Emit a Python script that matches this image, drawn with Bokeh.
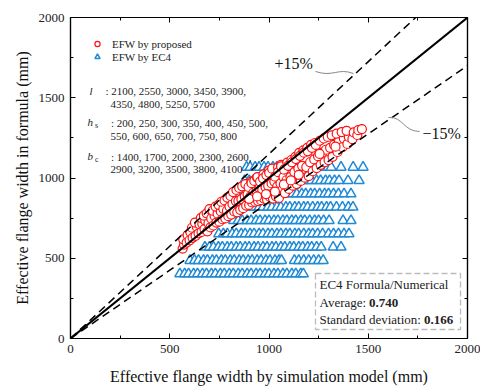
from bokeh.plotting import figure
from bokeh.models import (Range1d, LinearAxis, Legend, LegendItem, Label,
                          BoxAnnotation, FixedTicker)
from bokeh.embed import file_html
from bokeh.resources import INLINE

SERIF = "Liberation Serif"

# ---------------- data ----------------
axis_ticks = [0, 500, 1000, 1500, 2000]
axis_minor = [250, 750, 1250, 1750]
ref_x = [0, 2000]
plus_factor = 1.15
minus_factor = 0.85

# EFW by proposed (red circles)
prop_x = [565, 572, 568, 585, 590, 600, 604, 615, 612, 630, 636, 627, 645, 650,
          660, 664, 657, 675, 679, 672, 690, 695, 686, 705, 709, 700, 720, 726, 716,
          735, 741, 731, 750, 757, 746, 765, 770, 760, 780, 788, 776, 795, 801, 790,
          810, 816, 806, 825, 833, 819, 840, 846, 836, 855, 861, 850, 870, 878, 865,
          885, 892, 881, 900, 906, 897, 911, 915, 921, 912, 930, 937, 926, 940,
          945, 952, 942, 960, 966, 955, 972, 975, 983, 970, 990, 996, 987, 999,
          1005, 1013, 1001, 1020, 1027, 1016, 1035, 1041, 1031, 1046,
          1050, 1058, 1046, 1061, 1065, 1073, 1061, 1080, 1088, 1076, 1092,
          1100, 1108, 1096, 1113, 1120, 1128, 1116, 1133, 1140, 1148, 1136, 1152,
          1160, 1167, 1156, 1173, 1180, 1188, 1176, 1193, 1200, 1207, 1196, 1212,
          1220, 1228, 1216, 1232, 1240, 1247, 1236, 1260, 1268, 1256,
          1280, 1287, 1276, 1300, 1308, 1296, 1320, 1328, 1316, 1345, 1352, 1341,
          1370, 1377, 1366, 1395, 1402, 1391, 1420, 1427, 1445, 1450, 1468,
          985, 1030, 1075, 1110, 1150, 900, 940, 1255, 1335]
prop_y = [560, 585, 618, 597, 645, 612, 662, 627, 690, 640, 697, 722, 655, 712,
          664, 715, 752, 682, 735, 765, 668, 718, 780, 692, 748, 806, 704, 764, 796,
          722, 778, 822, 728, 792, 833, 743, 808, 852, 748, 796, 860, 762, 822, 878,
          772, 838, 888, 792, 856, 912, 786, 858, 926, 802, 868, 938, 812, 884, 948,
          828, 898, 962, 832, 884, 944, 978, 848, 908, 968, 852, 918, 982, 1002,
          856, 938, 1006, 862, 926, 978, 1022, 872, 942, 998, 866, 952, 1018, 1046,
          882, 966, 1032, 872, 978, 1058, 886, 946, 1008, 1066,
          876, 966, 1036, 1082, 922, 1006, 1072, 906, 986, 1052, 1096,
          932, 1006, 1076, 1112, 952, 1036, 1098, 1132, 962, 1058, 1118, 1156,
          982, 1076, 1138, 1172, 1002, 1068, 1158, 1188, 1012, 1098, 1166, 1206,
          1042, 1116, 1188, 1218, 1062, 1136, 1206, 1082, 1158, 1232,
          1098, 1176, 1246, 1112, 1188, 1256, 1132, 1206, 1266, 1162, 1226, 1276,
          1192, 1246, 1286, 1212, 1256, 1294, 1242, 1284, 1268, 1298, 1305,
          900, 915, 960, 985, 1020, 870, 885, 1150, 1195]

# EFW by EC4 (blue triangles), one row per formula level
ec4_levels = [403, 486, 569, 652, 735, 818, 901, 984, 1067]
ec4_rows_x = [
    [551, 575, 595, 620, 640, 665, 685, 710, 730, 755, 775, 800, 820, 845, 865,
     890, 910, 935, 955, 980, 1000, 1025, 1045, 1070, 1090, 1115, 1135, 1160, 1173],
    [602, 625, 645, 670, 690, 715, 735, 760, 780, 805, 825, 850, 870, 895, 915,
     940, 960, 985, 1005, 1030, 1050, 1063, 1128, 1150, 1175, 1200, 1225, 1250, 1273],
    [677, 700, 720, 745, 765, 790, 810, 835, 855, 880, 900, 925, 945, 970, 990,
     1015, 1035, 1060, 1080, 1105, 1125, 1150, 1170, 1195, 1215, 1240, 1263, 1323, 1363],
    [747, 770, 790, 815, 835, 860, 880, 905, 925, 950, 970, 995, 1015, 1040, 1060,
     1085, 1105, 1130, 1150, 1175, 1200, 1220, 1245, 1270, 1300, 1325, 1350, 1378, 1403],
    [822, 845, 865, 890, 910, 935, 955, 980, 1000, 1025, 1045, 1070, 1090, 1115,
     1135, 1160, 1180, 1205, 1230, 1250, 1275, 1303, 1373, 1413],
    [837, 860, 880, 905, 925, 950, 970, 995, 1015, 1040, 1060, 1085, 1105, 1130,
     1150, 1175, 1195, 1220, 1245, 1265, 1290, 1310, 1340, 1370, 1400, 1423],
    [872, 895, 915, 940, 960, 985, 1005, 1030, 1050, 1075, 1095, 1120, 1140, 1165,
     1185, 1210, 1230, 1255, 1280, 1300, 1325, 1350, 1378, 1413],
    [877, 900, 920, 945, 965, 990, 1010, 1035, 1055, 1080, 1100, 1125, 1145, 1170,
     1190, 1215, 1240, 1260, 1285, 1305, 1330, 1353, 1398, 1454],
    [887, 905, 930, 950, 975, 995, 1020, 1040, 1065, 1085, 1110, 1130, 1155, 1175,
     1200, 1225, 1250, 1270, 1298, 1313, 1363, 1424, 1474],
]

ec4_x = []
ec4_y = []
for lvl, xs in zip(ec4_levels, ec4_rows_x):
    ec4_x.extend(xs)
    ec4_y.extend([lvl] * len(xs))

param_l = ["2100, 2550, 3000, 3450, 3900,", "4350, 4800, 5250, 5700"]
param_hs = ["200, 250, 300, 350, 400, 450, 500,", "550, 600, 650, 700, 750, 800"]
param_bc = ["1400, 1700, 2000, 2300, 2600,", "2900, 3200, 3500, 3800, 4100"]

# ---------------- layout helpers (pixel -> data) ----------------
L, R, T, B = 70, 467, 17, 338


def px2x(px):
    return (px - L) / (R - L) * 2000


def px2y(py):
    return (B - py) / (B - T) * 2000


p = figure(width=480, height=388, x_range=Range1d(0, 2000), y_range=Range1d(0, 2000),
           output_backend="svg", toolbar_location=None,
           min_border_left=L, min_border_right=480 - R, min_border_top=T,
           min_border_bottom=388 - B)
p.background_fill_color = "white"
p.border_fill_color = "white"
p.outline_line_color = "black"
p.outline_line_width = 1.2
p.xgrid.visible = False
p.ygrid.visible = False

ticker = FixedTicker(ticks=axis_ticks, minor_ticks=axis_minor)


def style_axis(ax, labels=True):
    ax.ticker = ticker
    ax.axis_line_color = "black"
    ax.axis_line_width = 1.2
    ax.major_tick_in = 5
    ax.major_tick_out = 0
    ax.minor_tick_in = 3
    ax.minor_tick_out = 0
    ax.major_tick_line_color = "black"
    ax.minor_tick_line_color = "black"
    ax.major_label_text_font = SERIF
    if labels:
        ax.major_label_text_font_size = "13px"
        ax.major_label_text_color = "#222222"
        ax.major_label_standoff = 6
    else:
        ax.major_label_text_font_size = "1px"
        ax.major_label_text_color = None
        ax.major_label_standoff = 0
    ax.axis_label_text_font = SERIF
    ax.axis_label_text_font_size = "16px"
    ax.axis_label_text_font_style = "normal"
    ax.axis_label_text_color = "#111111"


style_axis(p.xaxis[0])
style_axis(p.yaxis[0])
p.xaxis[0].axis_label = "Effective flange width by simulation model (mm)"
p.yaxis[0].axis_label = "Effective flange width in formula (mm)"
p.xaxis[0].axis_label_standoff = 12
p.yaxis[0].axis_label_standoff = 5

top_ax = LinearAxis()
right_ax = LinearAxis()
style_axis(top_ax, labels=False)
style_axis(right_ax, labels=False)
p.add_layout(top_ax, "above")
p.add_layout(right_ax, "right")

# ---------------- markers ----------------
r_tri = p.scatter(ec4_x, ec4_y, marker="triangle", size=10, fill_color="white",
                  line_color="#1f8ad6", line_width=1.5)
r_circ = p.scatter(prop_x, prop_y, marker="circle", size=9, fill_color="white",
                   line_color="#ff1010", line_width=1.2)

# ---------------- reference lines ----------------
p.line(ref_x, ref_x, line_color="black", line_width=2)
p.line([0, 2000 / plus_factor], [0, 2000], line_color="black", line_width=1.5,
       line_dash="8 5")
p.line(ref_x, [v * minus_factor for v in ref_x], line_color="black", line_width=1.5,
       line_dash="8 5")

# leader lines
p.bezier(x0=[px2x(315)], y0=[px2y(71)], x1=[px2x(353)], y1=[px2y(73)],
         cx0=[px2x(333)], cy0=[px2y(77)], cx1=[px2x(337)], cy1=[px2y(67)],
         line_color="#888888", line_width=1)
p.bezier(x0=[px2x(388)], y0=[px2y(117)], x1=[px2x(419)], y1=[px2y(131)],
         cx0=[px2x(403)], cy0=[px2y(116)], cx1=[px2x(403)], cy1=[px2y(131)],
         line_color="#888888", line_width=1)

# ---------------- legend ----------------
legend = Legend(items=[LegendItem(label="EFW by proposed", renderers=[r_circ]),
                       LegendItem(label="EFW by EC4", renderers=[r_tri])],
                location="top_left", margin=20, padding=0, spacing=0,
                glyph_width=14, glyph_height=13, label_height=13, label_standoff=8,
                label_text_font=SERIF, label_text_font_size="11px",
                label_text_color="#222222",
                border_line_color=None, background_fill_alpha=0)
p.add_layout(legend)


def add_text(text, px, py, size="11px", style="normal", color="#222222"):
    p.add_layout(Label(x=px2x(px), y=px2y(py), text=text, text_font=SERIF,
                       text_font_size=size, text_font_style=style,
                       text_color=color, text_baseline="middle", text_align="left"))


# parameter annotations
add_text("l", 89, 90, style="italic")
add_text(": " + param_l[0], 105, 90)
add_text(param_l[1], 110, 103)
add_text("h", 87, 121, style="italic")
add_text("s", 94.5, 125, size="8px")
add_text(": " + param_hs[0], 110.5, 122)
add_text(param_hs[1], 110, 135)
add_text("b", 87, 155, style="italic")
add_text("c", 94.5, 159, size="8px")
add_text(": " + param_bc[0], 110.5, 156)
add_text(param_bc[1], 110, 168)

# percentage labels
add_text("+15%", 274, 63, size="16px", color="#111111")
add_text("\u221215%", 422, 133, size="16px", color="#111111")

# statistics box
p.add_layout(BoxAnnotation(left=px2x(315), right=px2x(460), top=px2y(273),
                           bottom=px2y(329), fill_alpha=0, line_color="#222222",
                           line_width=1.3, line_dash="6 3"))
add_text("EC4 Formula/Numerical", 319, 284, size="13px")
add_text("Average:", 319, 302, size="13px")
add_text("0.740", 368.5, 302, size="13px", style="bold")
add_text("Standard deviation:", 319, 319, size="13px")
add_text("0.166", 423.5, 319, size="13px", style="bold")

open("out.html", "w").write(file_html(p, INLINE))
